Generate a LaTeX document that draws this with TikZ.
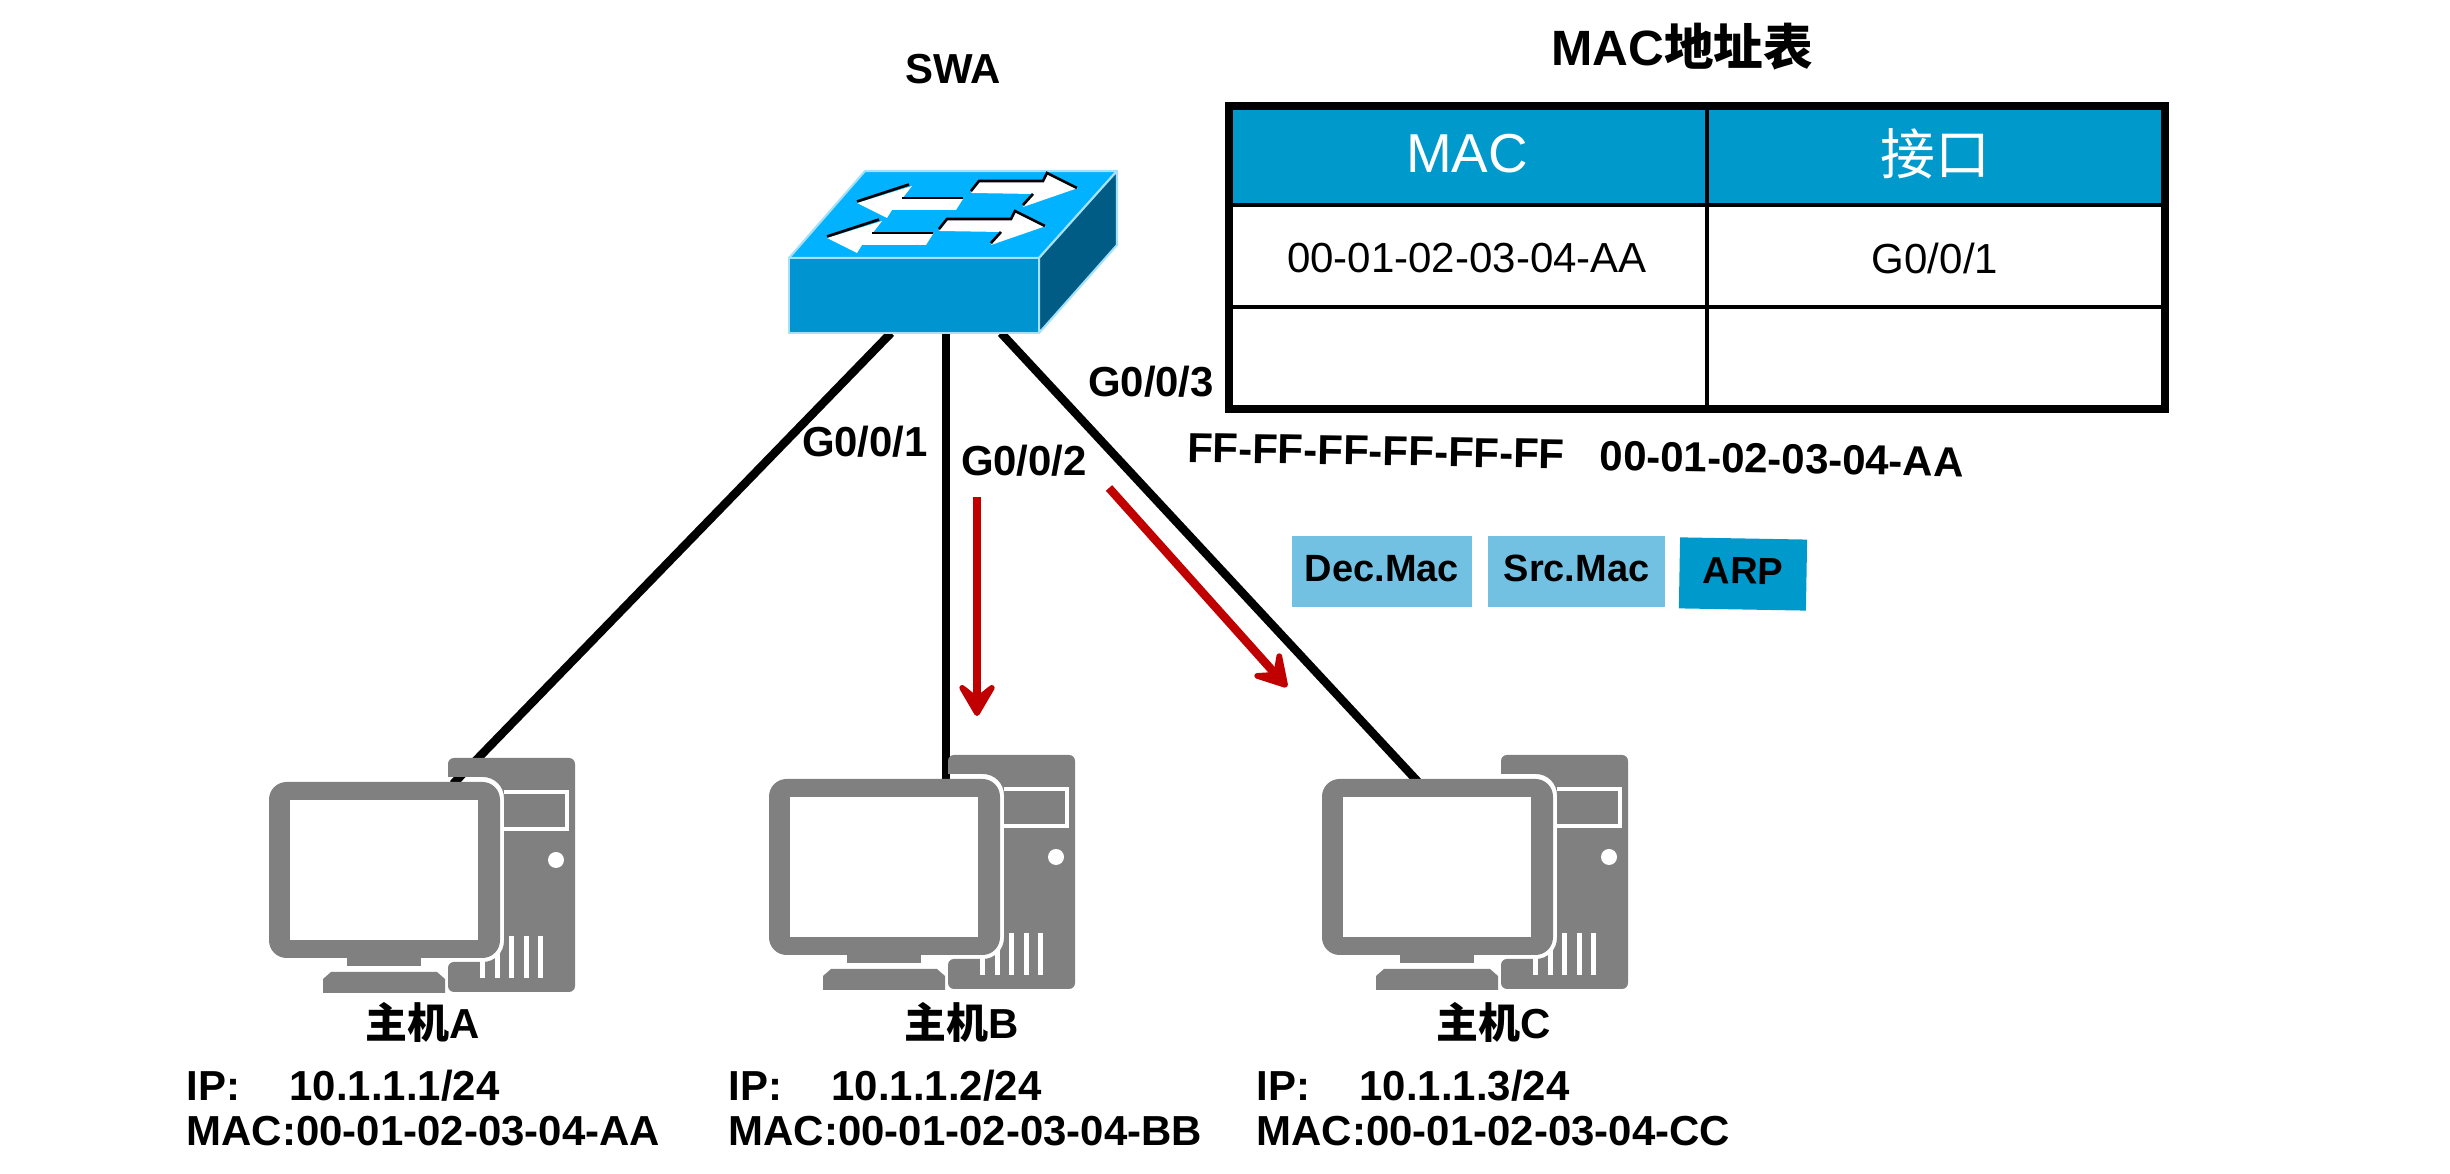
\documentclass[tikz,border=0pt]{standalone}
\usepackage{fontspec}
\setmainfont{Liberation Sans}
\newfontfamily\cjkfont{Noto Sans CJK SC}
\usetikzlibrary{arrows.meta}
\definecolor{swtop}{RGB}{0,178,255}
\definecolor{swfront}{RGB}{0,148,208}
\definecolor{swside}{RGB}{0,92,133}
\definecolor{swedge}{RGB}{165,225,250}
\definecolor{headblue}{RGB}{0,153,204}
\definecolor{fieldblue}{RGB}{115,193,226}
\definecolor{hostgray}{RGB}{128,128,128}
\definecolor{flowred}{RGB}{192,0,0}
\tikzset{
    boldtxt/.style={inner sep=0pt, font=\fontsize{11.93}{12.8}\selectfont\bfseries},
    celltxt/.style={inner sep=0pt, font=\fontsize{11.95}{13}\selectfont},
    headtxt/.style={inner sep=0pt, text=white, font=\fontsize{15.6}{17}\selectfont},
    field/.style={inner sep=0pt, minimum width=#1, minimum height=71*0.2845pt, text depth=1.7pt,
        font=\fontsize{10.8}{12}\selectfont\bfseries},
    link/.style={line width=2.4pt},
    flow/.style={line width=2.4pt, flowred,
        -{Stealth[length=12pt, width=14pt, inset=5.5pt, round]}},
    pics/hostpc/.style={code={
        \fill[hostgray, rounded corners=1.7pt] (179,-5) -- (179,-24) -- (306,-24) -- (306,210)
            -- (179,210) -- (179,180) [rounded corners=6pt] -- (235,180) -- (235,-5)
            [sharp corners] -- cycle;
        \draw[white, line width=1.2pt] (235,10) -- (298,10) -- (298,47) -- (235,47);
        \fill[white] (287,78) circle (8);
        \foreach \vx in {213,228,242,257,271}
            \fill[white] (\vx-2.5,154) rectangle (\vx+2.5,196);
        \fill[hostgray, rounded corners=5pt] (0,0) rectangle (231,176);
        \fill[white] (21,18) rectangle (209,158);
        \fill[hostgray] (78,176) rectangle (152,184);
        \fill[hostgray] (54,197) -- (62,190) -- (168,190) -- (176,197) -- (176,211) -- (54,211) -- cycle;
    }},
}
\begin{document}
\begin{tikzpicture}[x=0.01cm, y=-0.01cm]
    \useasboundingbox (0,0) rectangle (2450,1174);

    \coordinate (swL) at (891,333);
    \coordinate (swM) at (946,333);
    \coordinate (swR) at (1001,333);
    \coordinate (portA) at (453,784);
    \coordinate (portB) at (946,784);
    \coordinate (portC) at (1420,784);

    \draw[link] (swL) -- (portA);
    \draw[link] (swM) -- (portB);
    \draw[link] (swR) -- (portC);

    \draw[line width=0.6pt, swedge, fill=swtop, line join=round] (789,258) -- (865,171) -- (1117,171) -- (1039,258) -- cycle;
    \draw[line width=0.6pt, swedge, fill=swside, line join=round] (1039,258) -- (1117,171) -- (1117,245) -- (1039,333) -- cycle;
    \draw[line width=0.6pt, swedge, fill=swfront] (789,258) rectangle (1039,333);

    \foreach \dx/\dy in {0/0,-32/38} {
        \begin{scope}[shift={(\dx,\dy)}]
            \fill[white] (971,193) -- (979,182) -- (1043,182) -- (1047,174) -- (1078,188)
                -- (1023,207) -- (1033,194) -- cycle;
            \draw[line width=0.75pt] (971,191) -- (979,181) -- (1043,181) -- (1047,173) -- (1077,188);
            \draw[line width=0.75pt] (1023,205) -- (1033,194);
        \end{scope}
    }
    \foreach \dx/\dy in {0/0,-30/35} {
        \begin{scope}[shift={(\dx,\dy)}]
            \fill[white] (857,203) -- (912,186) -- (902,199) -- (963,199) -- (956,210)
                -- (892,210) -- (887,218) -- cycle;
            \draw[line width=0.75pt] (857,201.5) -- (909,184.5);
            \draw[line width=0.75pt] (902,198) -- (963,198);
        \end{scope}
    }

    \pic at (269,782) {hostpc};
    \pic at (769,779) {hostpc};
    \pic at (1322,779) {hostpc};

    \node[boldtxt] (swName) at (953,69) {SWA};
    \node[boldtxt] (pA) at (865,442) {G0/0/1};
    \node[boldtxt] (pB) at (1024,461) {G0/0/2};
    \node[boldtxt] (pC) at (1151,382) {G0/0/3};

    \coordinate (flowBs) at (977,497);
    \coordinate (flowBe) at (977,716);
    \coordinate (flowCs) at (1109,488);
    \coordinate (flowCe) at (1287,687);
    \draw[flow] (flowBs) -- (flowBe);
    \draw[flow] (flowCs) -- (flowCe);

    \fill[headblue] (1229,106) rectangle (2165,205);
    \draw[line width=1pt] (1707,106) -- (1707,409);
    \draw[line width=1pt] (1229,205) -- (2165,205);
    \draw[line width=1pt] (1229,307) -- (2165,307);
    \draw[line width=2.3pt] (1229,106) rectangle (2165,409);

    \node[inner sep=0pt, font=\fontsize{14.1}{16}\selectfont\bfseries] (tabTitle) at (1682,47) {MAC{\cjkfont 地址表}};
    \node[headtxt] (headMac) at (1467,154) {MAC};
    \node[headtxt] (headPort) at (1935,154) {\cjkfont 接口};
    \node[celltxt] (cellMac) at (1467,258) {00-01-02-03-04-AA};
    \node[celltxt] (cellPort) at (1935,258) {G0/0/1};

    \node[boldtxt, rotate=-1] (dstMac) at (1376,451) {FF-FF-FF-FF-FF-FF};
    \node[boldtxt, rotate=-1] (srcMac) at (1782,459) {00-01-02-03-04-AA};

    \node[field=180*0.2845pt, fill=fieldblue] (decBox) at (1382,571.5) {Dec.Mac};
    \node[field=177*0.2845pt, fill=fieldblue] (srcBox) at (1576.5,571.5) {Src.Mac};
    \node[field=127*0.2845pt, fill=headblue, rotate=-1] (arpBox) at (1743,574) {ARP};

    \foreach \nm/\hx/\ix/\ip/\mc in {A/423/186/1/AA,B/962/728/2/BB,C/1494/1256/3/CC} {
        \node[boldtxt] (host\nm) at (\hx,1022) {{\cjkfont 主机}\nm};
        \node[boldtxt, anchor=north west, align=left] (info\nm) at (\ix,1069)
            {IP:\hspace{14pt}10.1.1.\ip/24\\MAC:00-01-02-03-04-\mc};
    }
\end{tikzpicture}
\end{document}
